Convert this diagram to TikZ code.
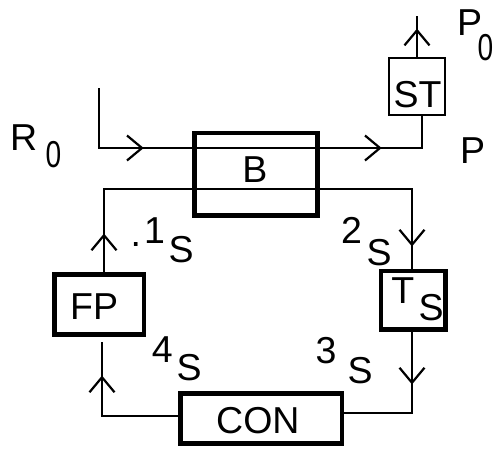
\documentclass[tikz,border=0pt]{standalone}
\usepackage{graphicx}
\usepackage{fontspec}
\setmainfont{Liberation Sans}
\usetikzlibrary{decorations.markings}
\newcommand\nz{\scalebox{0.75}[1]{0}}
\begin{document}
\begin{tikzpicture}[x=1pt,y=-1pt,
  thinln/.style={line width=1.5pt},
  thickbox/.style={draw,line width=4.5pt,inner sep=0pt},
  thinbox/.style={draw,line width=1.3pt,inner sep=0pt},
  lab/.style={inner sep=0pt,anchor=base west,font=\fontsize{37.5pt}{40pt}\selectfont},
  chev/.style={postaction={decorate,decoration={markings,mark=at position #1 with {\draw[line width=2.2pt] (-15pt,12.5pt) -- (0pt,0pt) -- (-15pt,-12.5pt);}}}}
]
\useasboundingbox (0,0) rectangle (496,448);
% boxes
\node[thickbox,minimum width=123pt,minimum height=82.5pt] (B) at (256,174.25) {};
\node[thinbox,minimum width=56pt,minimum height=57pt] (ST) at (417,86.5) {};
\node[thickbox,minimum width=89.5pt,minimum height=60pt] (FP) at (99.25,304.5) {};
\node[thickbox,minimum width=64.5pt,minimum height=58.5pt] (Ts) at (413.25,300.25) {};
\node[thickbox,minimum width=161.5pt,minimum height=50pt] (CON) at (261.25,418.5) {};
% coordinates
\coordinate (r0top) at (99,88);
\coordinate (pj) at (422,148);
\coordinate (p0top) at (417,16);
\coordinate (lt) at (104,189);
\coordinate (rt) at (412,189);
\coordinate (ct) at (412,413);
\coordinate (cl) at (102,416);
\coordinate (fpb) at (102,342);
% connectors
\draw[thinln,chev=103pt,chev=341pt] (r0top) |- (pj) -- (ST.south -| pj);
\draw[thinln,chev=27pt] (ST.north) -- (p0top);
\draw[thinln,chev=37pt,chev=-24pt] (FP.north -| lt) -- (lt) -- (rt) -- (Ts.north -| rt);
\draw[thinln,chev=51pt] (Ts.south -| ct) -- (ct) -- (CON.east |- ct);
\draw[thinln,chev=115pt] (CON.west |- cl) -- (cl) -- (fpb);
% labels
\node[lab] (lR) at (10,150) {\rlap{R}\hspace{35.5pt}\raisebox{-17pt}{\nz}};
\node[lab] (lP0) at (457,35) {\rlap{P}\hspace{20.5pt}\raisebox{-25pt}{\nz}};
\node[lab] (lP) at (460,163) {P};
\node[lab] (lST) at (393.3,107) {ST};
\node[lab] (lB) at (242.2,182) {B};
\node[lab] (l1) at (130.5,243) {\rlap{\raisebox{-3pt}{.}}\hspace{13.5pt}\rlap{1}\hspace{24.3pt}\raisebox{-19pt}{S}};
\node[lab] (l2) at (341,243) {\rlap{2}\hspace{25.3pt}\raisebox{-22pt}{S}};
\node[lab] (lTs) at (391.2,303) {\rlap{T}\hspace{27.1pt}\raisebox{-17pt}{S}};
\node[lab] (lFP) at (70,319) {FP};
\node[lab] (l4) at (151.6,362) {\rlap{4}\hspace{24.7pt}\raisebox{-18pt}{S}};
\node[lab] (l3) at (315.4,363) {\rlap{3}\hspace{31.9pt}\raisebox{-20pt}{S}};
\node[lab] (lCON) at (216,433) {CON};
\end{tikzpicture}
\end{document}
